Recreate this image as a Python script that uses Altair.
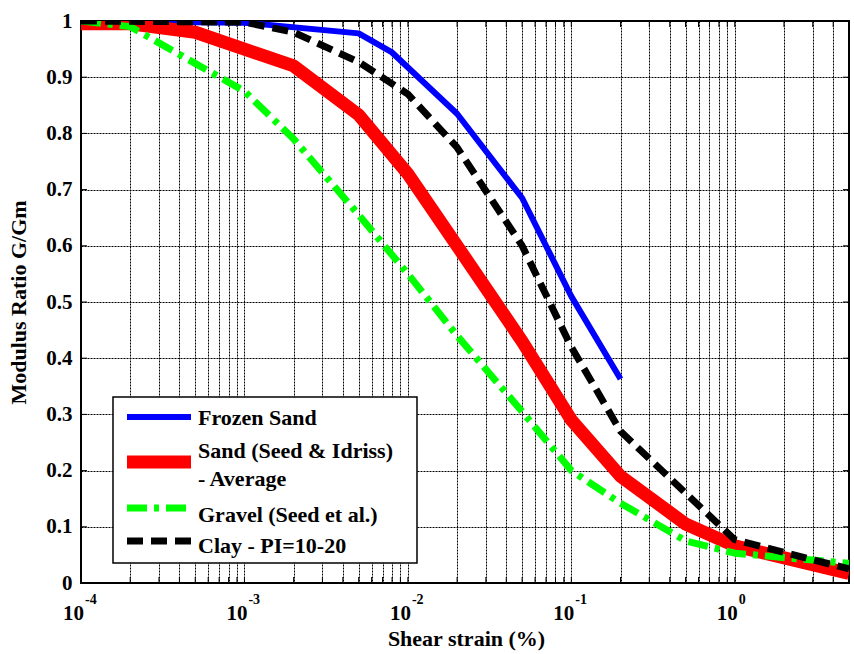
import altair as alt
import pandas as pd

# Modulus reduction curves: shear strain (%) vs. G/Gm
frozen_strain = [1e-4, 1e-3, 5e-3, 8e-3, 2e-2, 5e-2, 0.1, 0.2]
frozen_ratio = [1.0, 0.997, 0.978, 0.944, 0.835, 0.685, 0.51, 0.363]

sand_strain = [1e-4, 2e-4, 5e-4, 2e-3, 5e-3, 1e-2, 2e-2, 5e-2, 0.1, 0.2, 0.5, 1.0, 5.0]
sand_ratio = [0.995, 0.995, 0.98, 0.92, 0.833, 0.728, 0.60, 0.43, 0.29, 0.19, 0.105, 0.066, 0.017]

gravel_strain = [1e-4, 2e-4, 1e-3, 2e-3, 5e-3, 1e-2, 2e-2, 5e-2, 0.1, 0.2, 0.5, 1.0, 5.0]
gravel_ratio = [1.0, 0.99, 0.875, 0.79, 0.655, 0.55, 0.44, 0.305, 0.2, 0.142, 0.075, 0.053, 0.035]

clay_strain = [1e-4, 1e-3, 2e-3, 5e-3, 1e-2, 2e-2, 5e-2, 0.1, 0.2, 0.5, 1.0, 5.0]
clay_ratio = [1.0, 0.998, 0.98, 0.927, 0.87, 0.775, 0.60, 0.42, 0.27, 0.16, 0.077, 0.025]

decades = [1e-4, 1e-3, 1e-2, 1e-1, 1.0]
decade_exponents = ["-4", "-3", "-2", "-1", "0"]
y_ticks = [round(0.1 * i, 1) for i in range(11)]

W, H = 768, 562
FONT = "'Liberation Serif', 'Times New Roman', Times, serif"

# minor + major log tick positions 1e-4 .. 5
x_ticks = [m * 10.0 ** e for e in range(-4, 0) for m in range(1, 10)] + [1.0, 2.0, 3.0, 4.0, 5.0]

series = [
    ("Frozen Sand", frozen_strain, frozen_ratio, "#0000ff", 6, None),
    ("Sand (Seed & Idriss) - Average", sand_strain, sand_ratio, "#ff0000", 13, None),
    ("Gravel (Seed et al.)", gravel_strain, gravel_ratio, "#00ff00", 7, [20, 7, 5, 7]),
    ("Clay - PI=10-20", clay_strain, clay_ratio, "#000000", 7, [16, 8]),
]

x_scale = alt.Scale(type="log", domain=[1e-4, 5], nice=False)
y_scale = alt.Scale(domain=[0, 1], nice=False, zero=False)

grid_style = dict(grid=True, gridColor="black", gridDash=[2, 1], gridWidth=1, gridOpacity=1)

grid_frame = alt.Chart(pd.DataFrame({"strain": [1e-4], "ratio": [0.0]})).mark_point(opacity=0).encode(
    x=alt.X("strain:Q", scale=x_scale,
            axis=alt.Axis(values=x_ticks, labels=False, ticks=False, domain=False, **grid_style,
                          title="Shear strain (%)", titleFont=FONT, titleFontSize=22,
                          titleFontWeight="bold", titleColor="black",
                          titleX=385, titleY=62, titleBaseline="alphabetic")),
    y=alt.Y("ratio:Q", scale=y_scale,
            axis=alt.Axis(values=y_ticks, format=".1~f", ticks=False, domain=False,
                          labelFont=FONT, labelFontSize=21, labelFontWeight="bold",
                          labelColor="black", labelPadding=9, **grid_style,
                          title="Modulus Ratio G/Gm", titleFont=FONT, titleFontSize=22,
                          titleFontWeight="bold", titleColor="black",
                          titleX=-63, titleY=H / 2, titleAngle=-90,
                          titleAlign="center", titleBaseline="middle")),
)

layers = [grid_frame]

# inward tick marks on all four sides
xt = pd.DataFrame({"strain": x_ticks})
yt = pd.DataFrame({"ratio": y_ticks})
for y0, y1 in [(H, H - 6), (0, 6)]:
    layers.append(alt.Chart(xt).mark_rule(color="black", strokeWidth=1).encode(
        x=alt.X("strain:Q", scale=x_scale), y=alt.value(y0), y2=alt.value(y1)))
for x0, x1 in [(0, 6), (W, W - 6)]:
    layers.append(alt.Chart(yt).mark_rule(color="black", strokeWidth=1).encode(
        y=alt.Y("ratio:Q", scale=y_scale), x=alt.value(x0), x2=alt.value(x1)))

# the four curves
for name, xs, ys, color, width, dash in series:
    df = pd.DataFrame({"strain": xs, "ratio": ys})
    kw = dict(color=color, strokeWidth=width, clip=True, strokeCap="butt", strokeJoin="round")
    if dash:
        kw["strokeDash"] = dash
    layers.append(alt.Chart(df).mark_line(**kw).encode(
        x=alt.X("strain:Q", scale=x_scale),
        y=alt.Y("ratio:Q", scale=y_scale),
        order=alt.Order("strain:Q"),
    ))

# x tick labels as 10 with a raised exponent
dec = pd.DataFrame({"strain": decades, "exp": decade_exponents})
layers.append(alt.Chart(dec).mark_text(
    text="10", font=FONT, fontSize=21, fontWeight="bold", color="black",
    align="right", baseline="alphabetic", dx=3).encode(
    x=alt.X("strain:Q", scale=x_scale), y=alt.value(H + 37)))
layers.append(alt.Chart(dec).mark_text(
    font=FONT, fontSize=14, fontWeight="bold", color="black",
    align="left", baseline="alphabetic", dx=4).encode(
    x=alt.X("strain:Q", scale=x_scale), y=alt.value(H + 21), text="exp:N"))

# legend box
one = pd.DataFrame({"k": [0]})
layers.append(alt.Chart(one).mark_rect(fill="white", stroke="black", strokeWidth=1.5).encode(
    x=alt.value(32), x2=alt.value(336), y=alt.value(376), y2=alt.value(542)))

legend_rows = [
    (396, ["Frozen Sand"], [404]),
    (441, ["Sand (Seed & Idriss)", "- Average"], [437, 465]),
    (487, ["Gravel (Seed et al.)"], [501]),
    (520, ["Clay - PI=10-20"], [532]),
]
for (name, xs, ys, color, width, dash), (ly, lines, baselines) in zip(series, legend_rows):
    kw = dict(color=color, strokeWidth=width, strokeCap="butt")
    if dash:
        kw["strokeDash"] = dash
    layers.append(alt.Chart(one).mark_rule(**kw).encode(
        x=alt.value(46), x2=alt.value(110), y=alt.value(ly)))
    for txt, by in zip(lines, baselines):
        layers.append(alt.Chart(one).mark_text(
            text=txt, font=FONT, fontSize=22, fontWeight="bold", color="black",
            align="left", baseline="alphabetic").encode(
            x=alt.value(117), y=alt.value(by)))

chart = alt.layer(*layers).properties(
    width=W, height=H,
    autosize=alt.AutoSizeParams(type="none"),
    padding={"left": 81, "top": 21, "right": 854 - 81 - W, "bottom": 654 - 21 - H},
    background="white",
).configure_view(stroke="black", strokeWidth=2)

chart.save("out.html", embed_options={"renderer": "svg", "actions": False})
